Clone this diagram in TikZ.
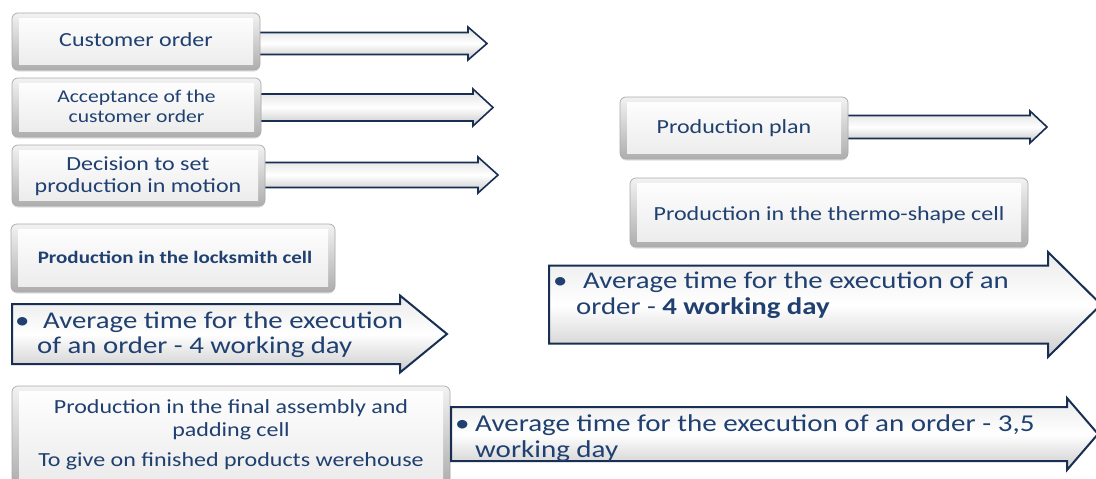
\documentclass[tikz,border=0pt]{standalone}
\usepackage{fontspec}
\setmainfont{Carlito}[FakeStretch=1.2]
\usetikzlibrary{calc,shadows}

\definecolor{txtblue}{RGB}{31,64,112}
\definecolor{navy}{RGB}{24,46,82}

\pgfdeclarelayer{paper}
\pgfdeclarelayer{background}
\pgfsetlayers{paper,background,main}

\newcommand{\setfs}[2]{\fontsize{#1}{#2}\selectfont}

% block arrow: start point, tip point, half shaft, half head, head length
\newcommand{\blockarrow}[6][]{%
  \path[arrowbody,#1] let \p1=(#2), \p2=(#3) in
    (\x1,\y2+#4) -- (\x2-#6,\y2+#4) -- (\x2-#6,\y2+#5) -- (\x2,\y2)
    -- (\x2-#6,\y2-#5) -- (\x2-#6,\y2-#4) -- (\x1,\y2-#4) -- cycle;}

\tikzset{
  bevelbox/.style={draw=black!33, line width=0.7pt, rounded corners=6pt,
    anchor=north west, inner sep=0pt, outer sep=0pt,
    top color=black!5, bottom color=black!32,
    drop shadow={shadow xshift=0pt, shadow yshift=-1.5pt, opacity=0.25},
    path picture={\shade[sharp corners, top color=white, bottom color=black!8]
      ($(path picture bounding box.north west)+(7pt,-5pt)$) rectangle
      ($(path picture bounding box.south east)+(-7pt,6pt)$);}},
  arrowbody/.style={draw=navy, line width=1.6pt, line join=miter,
    top color=black!12, bottom color=black!22, middle color=white},
  bigarrow/.style={line width=2pt, top color=black!8, bottom color=black!20, middle color=white},
  boxtext/.style={text=txtblue, inner sep=0pt, anchor=base},
  arrtext/.style={text=txtblue, inner sep=0pt, anchor=base west},
}

\begin{document}
\begin{tikzpicture}[x=1pt, y=-1pt]
  \begin{pgfonlayer}{paper}
    \fill[white] (0,0) rectangle (1096,479);
  \end{pgfonlayer}
  \useasboundingbox (0,0) rectangle (1096,479);

  % process boxes
  \node[bevelbox, minimum width=248pt, minimum height=57pt] (b1) at (12,13) {};
  \node[bevelbox, minimum width=249pt, minimum height=59pt] (b2) at (12,78) {};
  \node[bevelbox, minimum width=253pt, minimum height=61pt] (b3) at (12,145) {};
  \node[bevelbox, minimum width=324pt, minimum height=68pt] (b4) at (11,224) {};
  \node[bevelbox, minimum width=438pt, minimum height=99pt] (b5) at (12,386) {};
  \node[bevelbox, minimum width=228pt, minimum height=62pt] (b6) at (620,97) {};
  \node[bevelbox, minimum width=398pt, minimum height=69pt] (b7) at (630,178) {};

  % arrows leaving the boxes
  \coordinate (e1) at (487,43.5);
  \coordinate (e2) at (493,107.5);
  \coordinate (e3) at (498,175);
  \coordinate (e6) at (1047,127);
  \begin{pgfonlayer}{background}
    \blockarrow{$(b1.east)+(-6pt,0)$}{e1}{11pt}{16.5pt}{19pt}
    \blockarrow{$(b2.east)+(-6pt,0)$}{e2}{13.5pt}{18.5pt}{20pt}
    \blockarrow{$(b3.east)+(-6pt,0)$}{e3}{12.5pt}{18pt}{20pt}
    \blockarrow{$(b6.east)+(-6pt,0)$}{e6}{11.5pt}{16pt}{17pt}
  \end{pgfonlayer}

  % time arrows
  \coordinate (la) at (12,334);   \coordinate (lt) at (447,334);
  \coordinate (ra) at (549,304.5); \coordinate (rt) at (1101,304.5);
  \coordinate (ba) at (451,434);  \coordinate (bt) at (1098,434);
  \blockarrow[bigarrow]{la}{lt}{30pt}{38.5pt}{47pt}
  \blockarrow[bigarrow]{ra}{rt}{39pt}{52.5pt}{53pt}
  \blockarrow[bigarrow]{ba}{bt}{27pt}{36pt}{31pt}

  % box texts
  \node[boxtext, font=\setfs{20}{24}] (t1) at (136,46) {Customer order};
  \node[boxtext, font=\setfs{18}{20}] (t2) at (136.5,102)
    {\parbox[t]{240pt}{\centering Acceptance of the\\customer order}};
  \node[boxtext, font=\setfs{20}{22}] (t3) at (138,170)
    {\parbox[t]{250pt}{\centering Decision to set\\production in motion}};
  \node[boxtext, font=\setfs{17.5}{21}\bfseries] (t4) at (175,263)
    {Production in the locksmith cell};
  \node[boxtext, font=\setfs{20}{23}] (t5) at (231,413)
    {\parbox[t]{430pt}{\centering Production in the final assembly and\\padding cell\\[7pt]To give on finished products werehouse}};
  \node[boxtext, font=\setfs{20}{24}] (t6) at (734,133) {Production plan};
  \node[boxtext, font=\setfs{20}{24}] (t7) at (829,220) {Production in the thermo-shape cell};

  % arrow texts
  \node[arrtext, font=\setfs{24}{25}] (tl) at (15,328)
    {\parbox[t]{420pt}{\raggedright\makebox[22pt][l]{•}\hspace{6pt}Average time for the execution\\\hspace*{22pt}of an order - 4 working day}};
  \node[arrtext, font=\setfs{24}{26}] (tr) at (553,288)
    {\parbox[t]{500pt}{\raggedright\makebox[23pt][l]{•}\hspace{7pt}Average time for the execution of an\\\hspace*{23pt}order - \textbf{4 working day}}};
  \node[arrtext, font=\setfs{24.2}{26}] (tb) at (455,431)
    {\parbox[t]{620pt}{\raggedright\makebox[20pt][l]{•}Average time for the execution of an order - 3,5\\\hspace*{20pt}working day}};
\end{tikzpicture}
\end{document}
